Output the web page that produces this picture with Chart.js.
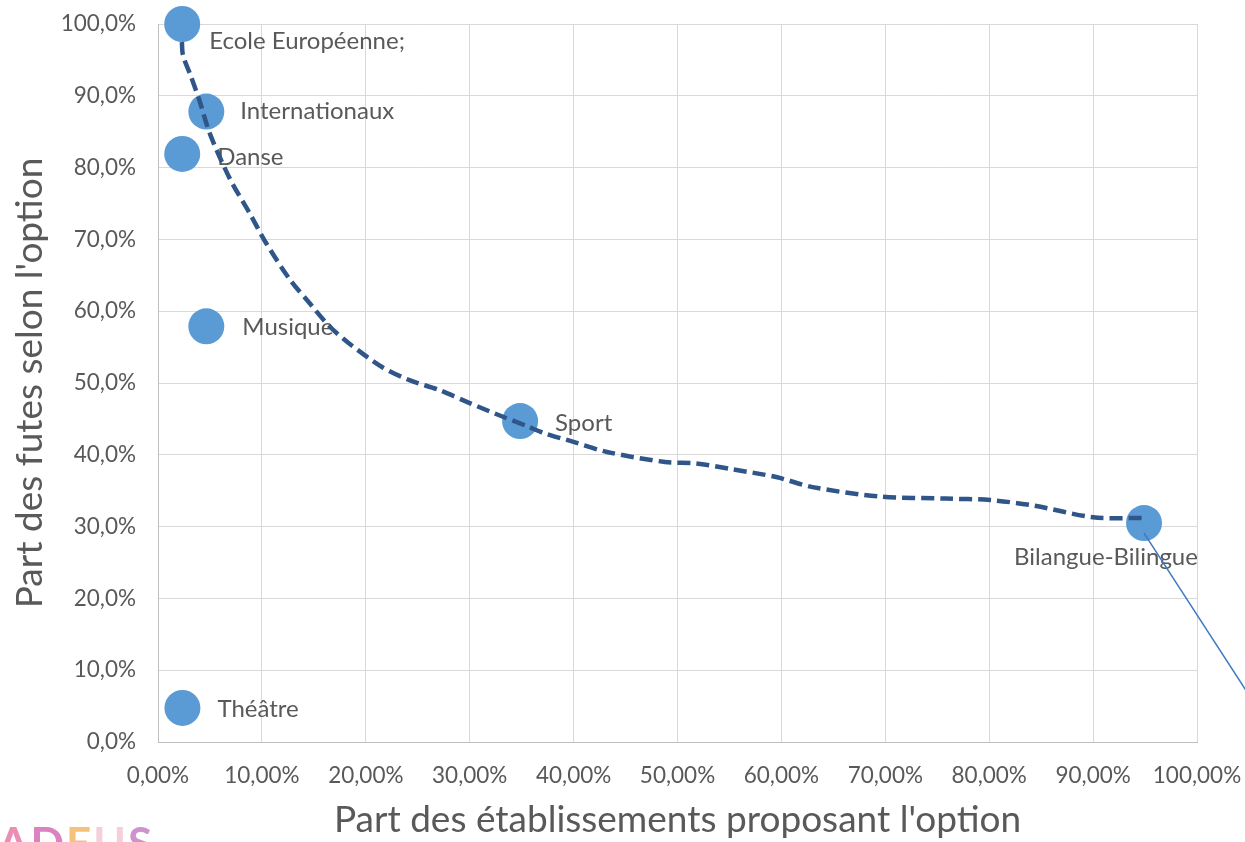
<!DOCTYPE html>
<html>
<head>
<meta charset="utf-8">
<script src="https://cdn.jsdelivr.net/npm/chart.js@4.4.1/dist/chart.umd.min.js"></script>
<style>
  html, body { margin: 0; padding: 0; background: #fff; overflow: hidden; }
  #wrap { position: relative; width: 1245px; height: 842px; }
  #logo { position: absolute; left: -2px; top: 820px; font-family: Lato; font-weight: bold; font-size: 44px; line-height: 44px; letter-spacing: 2px; opacity: 0.65; white-space: nowrap; }
</style>
</head>
<body>
<div id="wrap">
  <canvas id="chart" width="1245" height="842"></canvas>
  <div id="logo"><span style="color:#e0508c">A</span><span style="color:#c8409e">D</span><span style="color:#f0a238">E</span><span style="color:#f2b6c4">U</span><span style="color:#b45ab4">S</span></div>
</div>
<script>
// options (labels) and their values
const categories = ['Ecole Européenne;', 'Internationaux', 'Danse', 'Musique', 'Sport', 'Bilangue-Bilingue', 'Théâtre'];
const partEtablissements = [2.33, 4.65, 2.33, 4.65, 34.85, 94.9, 2.35];
const partFutes = [100, 87.8, 81.9, 57.9, 44.7, 30.5, 4.75];

// dashed trend curve
const trendX = [2.3, 2.4, 3.2, 4.0, 5.0, 6.9, 8.8, 10.4, 12.7, 14.6, 16.5, 18.4, 21.6, 24.2, 27.1, 30.0, 33.2, 35.5, 37.2, 40.0, 43.2, 48.8, 51.8, 55.2, 59.5, 63.0, 69.4, 75.8, 80.1, 84.4, 90.0, 94.8];
const trendY = [97.5, 95.7, 92.6, 89.3, 84.7, 78.5, 73.7, 69.5, 64.4, 61.1, 57.9, 55.5, 52.2, 50.4, 49.0, 47.2, 45.3, 44.0, 43.0, 41.8, 40.4, 39.0, 38.8, 38.0, 36.9, 35.5, 34.2, 33.9, 33.7, 32.9, 31.3, 31.2];

// thin leader line leaving the Bilangue point
const leaderX = [94.9, 104.8];
const leaderY = [29.1, 7.0];

const xTicks = [0, 10, 20, 30, 40, 50, 60, 70, 80, 90, 100];
const yTicks = [0, 10, 20, 30, 40, 50, 60, 70, 80, 90, 100];

const textColor = '#595959';

// label placement relative to each point (dx, dy, align)
const labelPlace = [
    [27, 17, 'left'],
    [34, 0, 'left'],
    [35, 3, 'left'],
    [36, 1, 'left'],
    [35, 2, 'left'],
    [-38, 34, 'center'],
    [35, 1, 'left']
];

const pointLabels = {
    id: 'pointLabels',
    beforeDatasetsDraw(chart) {
        const ctx = chart.ctx;
        const xs = chart.scales.x, ys = chart.scales.y;
        ctx.save();
        ctx.font = '24px Lato';
        ctx.fillStyle = textColor;
        ctx.textBaseline = 'middle';
        for (let i = 0; i < categories.length; i++) {
            const px = xs.getPixelForValue(partEtablissements[i]);
            const py = ys.getPixelForValue(partFutes[i]);
            const p = labelPlace[i];
            ctx.textAlign = p[2];
            ctx.fillText(categories[i], px + p[0], py + p[1]);
        }
        ctx.restore();
    }
};

const ctx = document.getElementById('chart').getContext('2d');
new Chart(ctx, {
    type: 'scatter',
    data: {
        datasets: [
            {
                data: trendX.map((x, i) => ({ x: x, y: trendY[i] })),
                showLine: true,
                borderColor: '#2f5589',
                borderWidth: 4.5,
                borderDash: [13, 6],
                pointRadius: 0,
                tension: 0.3,
                clip: false
            },
            {
                data: leaderX.map((x, i) => ({ x: x, y: leaderY[i] })),
                showLine: true,
                borderColor: '#3f78c0',
                borderWidth: 1.5,
                pointRadius: 0,
                clip: false
            },
            {
                data: partEtablissements.map((x, i) => ({ x: x, y: partFutes[i] })),
                backgroundColor: '#5b9bd5',
                borderColor: '#5b9bd5',
                borderWidth: 0,
                pointRadius: 18,
                pointHoverRadius: 18,
                clip: false
            }
        ]
    },
    options: {
        responsive: false,
        animation: false,
        events: [],
        layout: { autoPadding: false, padding: { top: 24, right: 48, bottom: 0, left: 0 } },
        plugins: {
            legend: { display: false },
            tooltip: { enabled: false }
        },
        scales: {
            x: {
                type: 'linear',
                min: 0,
                max: 100,
                afterBuildTicks: (s) => { s.ticks = xTicks.map(v => ({ value: v })); },
                afterFit: (s) => { s.height = 100; s.paddingLeft = 0; s.paddingRight = 0; },
                grid: { color: '#d9d9d9', drawTicks: false },
                border: { color: '#bfbfbf' },
                ticks: {
                    padding: 20,
                    color: textColor,
                    font: { family: 'Lato', size: 22.5 },
                    callback: (v) => v.toFixed(2).replace('.', ',') + '%'
                },
                title: {
                    display: true,
                    text: "Part des établissements proposant l'option",
                    color: textColor,
                    font: { family: 'Lato', size: 37 },
                    padding: { top: 0, bottom: 0 }
                }
            },
            y: {
                type: 'linear',
                min: 0,
                max: 100,
                afterBuildTicks: (s) => { s.ticks = yTicks.map(v => ({ value: v })); },
                afterFit: (s) => { s.width = 158; s.paddingTop = 0; s.paddingBottom = 0; },
                grid: { color: '#d9d9d9', drawTicks: false },
                border: { color: '#bfbfbf' },
                ticks: {
                    padding: 22,
                    color: textColor,
                    font: { family: 'Lato', size: 22.5 },
                    callback: (v) => v.toFixed(1).replace('.', ',') + '%'
                },
                title: {
                    display: true,
                    text: "Part des futes selon l'option",
                    color: textColor,
                    font: { family: 'Lato', size: 37 },
                    padding: { top: 8, bottom: 0 }
                }
            }
        }
    },
    plugins: [pointLabels]
});
</script>
</body>
</html>
